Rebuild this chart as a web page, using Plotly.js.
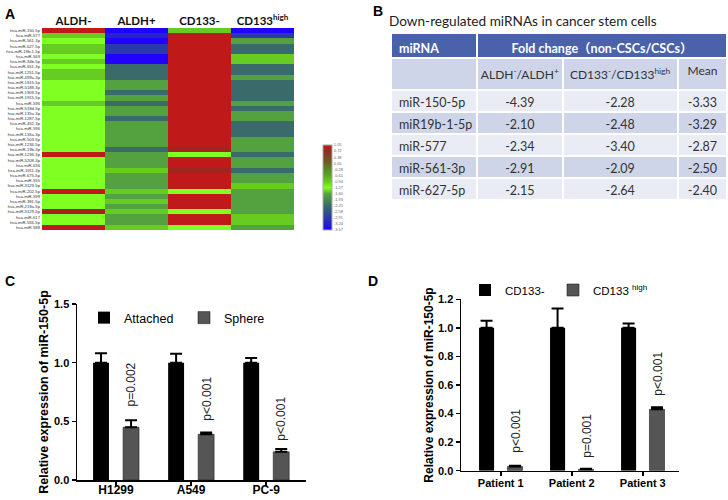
<!DOCTYPE html>
<html>
<head>
<meta charset="utf-8">
<script src="https://cdn.plot.ly/plotly-3.0.1.min.js"></script>
<style>
  html, body { margin: 0; padding: 0; background: #fff; }
  #myGraph { width: 728px; height: 500px; }
</style>
</head>
<body>
<div id="myGraph"></div>
<script>
// A : heatmap data
var groups = ['ALDH-', 'ALDH+', 'CD133-', 'CD133high'];
var groupLabels = ['ALDH-', 'ALDH+', 'CD133-', 'CD133<sup>high</sup>'];
var mirnas = ['hsa-miR-150-5p', 'hsa-miR-577', 'hsa-miR-561-3p', 'hsa-miR-627-5p', 'hsa-miR-19b-1-5p',
    'hsa-miR-569', 'hsa-miR-34b-5p', 'hsa-miR-651-3p', 'hsa-miR-1251-5p', 'hsa-miR-499a-3p',
    'hsa-miR-1915-5p', 'hsa-miR-5188-3p', 'hsa-miR-1909-5p', 'hsa-miR-1915-5p', 'hsa-miR-596',
    'hsa-miR-518d-5p', 'hsa-miR-135a-3p', 'hsa-miR-1287-5p', 'hsa-miR-452-3p', 'hsa-miR-596',
    'hsa-miR-135a-3p', 'hsa-miR-503-5p', 'hsa-miR-1236-5p', 'hsa-miR-19b-3p', 'hsa-miR-1236-3p',
    'hsa-miR-5208-3p', 'hsa-miR-636', 'hsa-miR-1911-3p', 'hsa-miR-675-5p', 'hsa-miR-555',
    'hsa-miR-3129-5p', 'hsa-miR-202-5p', 'hsa-miR-599', 'hsa-miR-381-5p', 'hsa-miR-219a-5p',
    'hsa-miR-3129-5p', 'hsa-miR-617', 'hsa-miR-556-5p', 'hsa-miR-588'];
// one value per row, columns = groups
var aldhNeg = [1.05, -0.94, -1.27, -0.94, -0.94, -1.27, -0.94, -1.27, -0.94, -0.94,
    -1.27, -1.27, -1.27, -1.27, -0.94, -1.27, -1.27, -1.27, -1.27, -1.27,
    -1.27, -1.27, -1.27, -1.27, 1.05, -1.27, -1.27, -1.27, -1.27, -1.27,
    -1.27, 1.05, -1.27, -1.27, -1.27, 0.82, -1.27, -1.27, 1.05];
var aldhPos = [-3.57, -3.2, -3.57, -2.91, -2.91, -3.57, -3.57, -2.25, -2.25, -2.25,
    -1.65, -1.65, -2.25, -1.65, -2.25, -1.65, -1.65, -2.25, -1.65, -1.65,
    -1.65, -1.65, -1.65, -2.25, -1.65, -1.65, -1.65, -0.94, -1.65, -1.65,
    -1.65, -0.94, -1.65, -0.94, -1.65, -0.94, -1.65, -1.65, -0.94];
var cd133Neg = [-0.94, 1.05, 1.05, 1.05, 1.05, 1.05, 1.05, 1.05, 1.05, 1.05,
    1.05, 1.05, 1.05, 1.05, 1.05, 1.05, 1.05, 1.05, 1.05, 1.05,
    1.05, 1.05, 1.05, 0.82, -1.27, 1.05, 1.05, 0.82, 1.05, 1.05,
    1.05, -1.27, 1.05, 1.05, 1.05, -1.27, 1.05, 1.05, -1.27];
var cd133High = [-3.57, -2.91, -1.65, -2.25, -2.25, -0.94, -0.94, -2.25, -2.25, -1.65,
    -2.25, -2.25, -2.25, -2.25, -1.65, -2.25, -1.65, -1.65, -2.25, -2.25,
    -2.25, -1.65, -1.65, -1.65, -2.25, -1.65, -1.65, -2.25, -1.65, -1.65,
    -0.94, -1.65, -1.65, -1.65, -1.65, -1.65, -0.94, -0.94, -1.65];
var scaleTicks = [1.05, 0.72, 0.38, 0.05, -0.28, -0.61, -0.94, -1.27, -1.60, -1.93, -2.25, -2.58, -2.91, -3.24, -3.57];

// B : table data
var tableMirna = ['miR-150-5p', 'miR19b-1-5p', 'miR-577', 'miR-561-3p', 'miR-627-5p'];
var tableAldh = ['-4.39', '-2.10', '-2.34', '-2.91', '-2.15'];
var tableCd133 = ['-2.28', '-2.48', '-3.40', '-2.09', '-2.64'];
var tableMean = ['-3.33', '-3.29', '-2.87', '-2.50', '-2.40'];

// C : cell lines
var cellLines = ['H1299', 'A549', 'PC-9'];
var attached = [1.0, 1.0, 1.0];
var attachedErr = [0.08, 0.075, 0.04];
var sphere = [0.45, 0.39, 0.24];
var sphereErr = [0.06, 0.015, 0.025];
var pSphere = ['p=0.002', 'p<0.001', 'p<0.001'];
var pSphereY = [0.61, 0.49, 0.32];

// D : patients
var patients = ['Patient 1', 'Patient 2', 'Patient 3'];
var cdNeg = [1.0, 1.0, 1.0];
var cdNegErr = [0.05, 0.135, 0.03];
var cdHigh = [0.03, 0.01, 0.43];
var cdHighErr = [0.005, 0.004, 0.015];
var pHigh = ['p<0.001', 'p=0.001', 'p<0.001'];
var pHighY = [0.11, 0.075, 0.51];

var ARIAL = 'Arial, "Liberation Sans", sans-serif';
var CALI = 'Lato, "Noto Sans CJK SC", sans-serif';

// 픽셀 -> paper 좌표
function px(x) { return x / 728; }
function py(y) { return 1 - y / 500; }

function getGraph() {
    var Graph = document.getElementById('myGraph');

    var zRows = [];
    var rowIdx = [];
    for (var i = 0; i < mirnas.length; i++) {
        zRows.push([aldhNeg[i], aldhPos[i], cd133Neg[i], cd133High[i]]);
        rowIdx.push(i);
    }

    var heat = {
        type: 'heatmap',
        x: groups,
        y: rowIdx,
        z: zRows,
        zmin: -3.57,
        zmax: 1.05,
        xaxis: 'x',
        yaxis: 'y',
        colorscale: [
            [0, '#2200ff'], [0.0714, '#2222cc'], [0.1429, '#2a3aa8'], [0.2143, '#2f5288'],
            [0.2857, '#3a6a6a'], [0.355, '#468a50'], [0.4264, '#55a53c'], [0.4978, '#80ff22'],
            [0.5693, '#66cc22'], [0.6407, '#5aa820'], [0.7121, '#5a8a20'], [0.7835, '#6a6420'],
            [0.855, '#7a4820'], [0.9286, '#902c1e'], [1, '#c0191a']
        ],
        colorbar: {
            x: px(323), xanchor: 'left', y: py(230), yanchor: 'bottom',
            len: 85 / 500, lenmode: 'fraction', thickness: 9,
            outlinewidth: 1, outlinecolor: '#aaa', xpad: 0, ypad: 0,
            tickvals: scaleTicks, ticktext: scaleTicks.map(function (v) { return v.toFixed(2); }),
            ticks: '', tickfont: { size: 4, color: '#666', family: ARIAL }
        },
        hoverinfo: 'skip'
    };

    // 파란 머리줄 (병합 셀 대신 따로 그림) - 빈 행은 아래 표 밑에 깔림
    var header1 = {
        type: 'table',
        domain: { x: [px(391), px(727)], y: [py(85), py(33)] },
        columnwidth: [86, 250],
        header: {
            values: ['<b>miRNA</b>', '<b>Fold change（non-CSCs/CSCs）</b>'],
            align: ['left', 'center'],
            fill: { color: '#4a62aa' },
            line: { color: '#ffffff', width: 2 },
            height: 24,
            font: { family: CALI, size: 12.5, color: '#ffffff' }
        },
        cells: {
            values: [[''], ['']],
            height: 20,
            fill: { color: '#ffffff' },
            line: { color: '#ffffff', width: 1 }
        }
    };

    var rowFill = ['#e9ecf5', '#cfd5e8', '#e9ecf5', '#cfd5e8', '#e9ecf5'];
    var body = {
        type: 'table',
        domain: { x: [px(391), px(727)], y: [py(225), py(58)] },
        columnwidth: [86, 85, 115, 49],
        header: {
            values: ['', 'ALDH<sup>-</sup>/ALDH<sup>+</sup>', 'CD133<sup>-</sup>/CD133<sup>high</sup>', 'Mean'],
            align: ['left', 'center', 'center', 'center'],
            fill: { color: '#cfd5e8' },
            line: { color: '#ffffff', width: 2 },
            height: 24,
            font: { family: CALI, size: 12, color: '#333' }
        },
        cells: {
            values: [tableMirna, tableAldh, tableCd133, tableMean],
            align: ['left', 'center', 'center', 'center'],
            fill: { color: [rowFill] },
            line: { color: '#ffffff', width: 2 },
            height: 22,
            font: { family: CALI, size: 12.5, color: '#333' }
        }
    };

    // C 막대
    var barAtt = {
        type: 'bar', name: 'Attached', x: cellLines, y: attached,
        xaxis: 'x2', yaxis: 'y2', legend: 'legend',
        marker: { color: '#000000' },
        error_y: { type: 'data', symmetric: false, array: attachedErr, arrayminus: [0, 0, 0], color: '#000', thickness: 2, width: 6 }
    };
    var barSph = {
        type: 'bar', name: 'Sphere', x: cellLines, y: sphere,
        xaxis: 'x2', yaxis: 'y2', legend: 'legend',
        marker: { color: '#555555', line: { color: '#222', width: 0.6 } },
        error_y: { type: 'data', symmetric: false, array: sphereErr, arrayminus: [0, 0, 0], color: '#000', thickness: 2, width: 6 }
    };

    // D 막대
    var barNeg = {
        type: 'bar', name: 'CD133-', x: patients, y: cdNeg,
        xaxis: 'x3', yaxis: 'y3', legend: 'legend2',
        marker: { color: '#000000' },
        error_y: { type: 'data', symmetric: false, array: cdNegErr, arrayminus: [0, 0, 0], color: '#000', thickness: 2, width: 6 }
    };
    var barHigh = {
        type: 'bar', name: 'CD133 <sup>high</sup>', x: patients, y: cdHigh,
        xaxis: 'x3', yaxis: 'y3', legend: 'legend3',
        marker: { color: '#555555', line: { color: '#222', width: 0.6 } },
        error_y: { type: 'data', symmetric: false, array: cdHighErr, arrayminus: [0, 0, 0], color: '#000', thickness: 2, width: 6 }
    };

    var data = [heat, header1, body, barAtt, barSph, barNeg, barHigh];

    var annotations = [
        { text: '<b>A</b>', xref: 'paper', yref: 'paper', x: px(3), y: py(4), xanchor: 'left', yanchor: 'top', showarrow: false, font: { family: ARIAL, size: 14, color: '#000' } },
        { text: '<b>B</b>', xref: 'paper', yref: 'paper', x: px(371), y: py(1), xanchor: 'left', yanchor: 'top', showarrow: false, font: { family: ARIAL, size: 14, color: '#000' } },
        { text: '<b>C</b>', xref: 'paper', yref: 'paper', x: px(3), y: py(271), xanchor: 'left', yanchor: 'top', showarrow: false, font: { family: ARIAL, size: 14, color: '#000' } },
        { text: '<b>D</b>', xref: 'paper', yref: 'paper', x: px(366), y: py(271), xanchor: 'left', yanchor: 'top', showarrow: false, font: { family: ARIAL, size: 14, color: '#000' } },
        { text: 'Down-regulated miRNAs in cancer stem cells', xref: 'paper', yref: 'paper', x: px(387), y: py(21), xanchor: 'left', yanchor: 'middle', showarrow: false, font: { family: CALI, size: 13.6, color: '#222' } }
    ];
    for (var k = 0; k < cellLines.length; k++) {
        annotations.push({ text: pSphere[k], xref: 'x2', yref: 'y2', x: cellLines[k], y: pSphereY[k], xshift: 15,
            textangle: -90, xanchor: 'center', yanchor: 'bottom', showarrow: false,
            font: { family: ARIAL, size: 12, color: '#222' } });
        annotations.push({ text: pHigh[k], xref: 'x3', yref: 'y3', x: patients[k], y: pHighY[k], xshift: 15,
            textangle: -90, xanchor: 'center', yanchor: 'bottom', showarrow: false,
            font: { family: ARIAL, size: 12, color: '#222' } });
    }

    var barX = {
        type: 'category', showline: true, linecolor: '#000', linewidth: 1.5,
        ticks: 'outside', ticklen: 4, tickwidth: 1.5, tickcolor: '#000',
        showgrid: false, zeroline: false, fixedrange: true
    };
    var barY = {
        showline: true, linecolor: '#000', linewidth: 1.5,
        ticks: 'outside', ticklen: 4, tickwidth: 1.5, tickcolor: '#000',
        showgrid: false, zeroline: false, fixedrange: true, tickformat: '.1f'
    };
    var legendBase = {
        orientation: 'h', xanchor: 'left', yanchor: 'middle',
        bgcolor: 'rgba(0,0,0,0)', traceorder: 'normal'
    };

    var layout = {
        width: 728,
        height: 500,
        margin: { l: 0, r: 0, t: 0, b: 0 },
        paper_bgcolor: '#ffffff',
        plot_bgcolor: 'rgba(0,0,0,0)',
        font: { family: ARIAL, color: '#000' },
        barmode: 'group',
        showlegend: true,
        xaxis: {
            domain: [px(42), px(294)], side: 'top', type: 'category',
            tickvals: groups, ticktext: groupLabels, ticks: '', showgrid: false,
            tickfont: { family: CALI, size: 11.5, color: '#111', weight: 'bold' }
        },
        yaxis: {
            domain: [py(230), py(28)], range: [38.5, -0.5],
            tickvals: rowIdx, ticktext: mirnas, ticks: '', showgrid: false, zeroline: false,
            tickfont: { family: ARIAL, size: 4.2, color: '#333' }, ticklabelstandoff: 1
        },
        xaxis2: Object.assign({}, barX, {
            domain: [px(77), px(306)], anchor: 'y2', range: [-0.52, 2.53],
            tickfont: { family: ARIAL, size: 12, color: '#000', weight: 'bold' }, ticklabelstandoff: -6
        }),
        yaxis2: Object.assign({}, barY, {
            domain: [py(480), py(304)], anchor: 'x2', range: [0, 1.5], dtick: 0.5,
            tickfont: { family: ARIAL, size: 11, color: '#000', weight: 'bold' },
            title: { text: '<b>Relative expression of miR-150-5p</b>', font: { family: ARIAL, size: 12.5 }, standoff: 2 }
        }),
        xaxis3: Object.assign({}, barX, {
            domain: [px(461), px(679)], anchor: 'y3', range: [-0.56, 2.51],
            tickfont: { family: ARIAL, size: 11, color: '#000', weight: 'bold' }, ticklabelstandoff: -2
        }),
        yaxis3: Object.assign({}, barY, {
            domain: [py(470.7), py(299.3)], anchor: 'x3', range: [0, 1.2], dtick: 0.2,
            tickfont: { family: ARIAL, size: 11, color: '#000', weight: 'bold' },
            title: { text: '<b>Relative expression of miR-150-5p</b>', font: { family: ARIAL, size: 12 }, standoff: 2 }
        }),
        bargap: 0.2,
        bargroupgap: 0.47,
        legend: Object.assign({}, legendBase, {
            x: px(84), y: py(318), entrywidth: 55, entrywidthmode: 'pixels',
            font: { family: ARIAL, size: 12.5, color: '#000' }
        }),
        legend2: Object.assign({}, legendBase, {
            x: px(465), y: py(290), font: { family: ARIAL, size: 11.5, color: '#000' }
        }),
        legend3: Object.assign({}, legendBase, {
            x: px(553), y: py(290), font: { family: ARIAL, size: 11.5, color: '#000' }
        }),
        annotations: annotations
    };

    var config = { displayModeBar: false, responsive: false, staticPlot: true };
    Plotly.newPlot(Graph, data, layout, config);
}

getGraph();
</script>
</body>
</html>
